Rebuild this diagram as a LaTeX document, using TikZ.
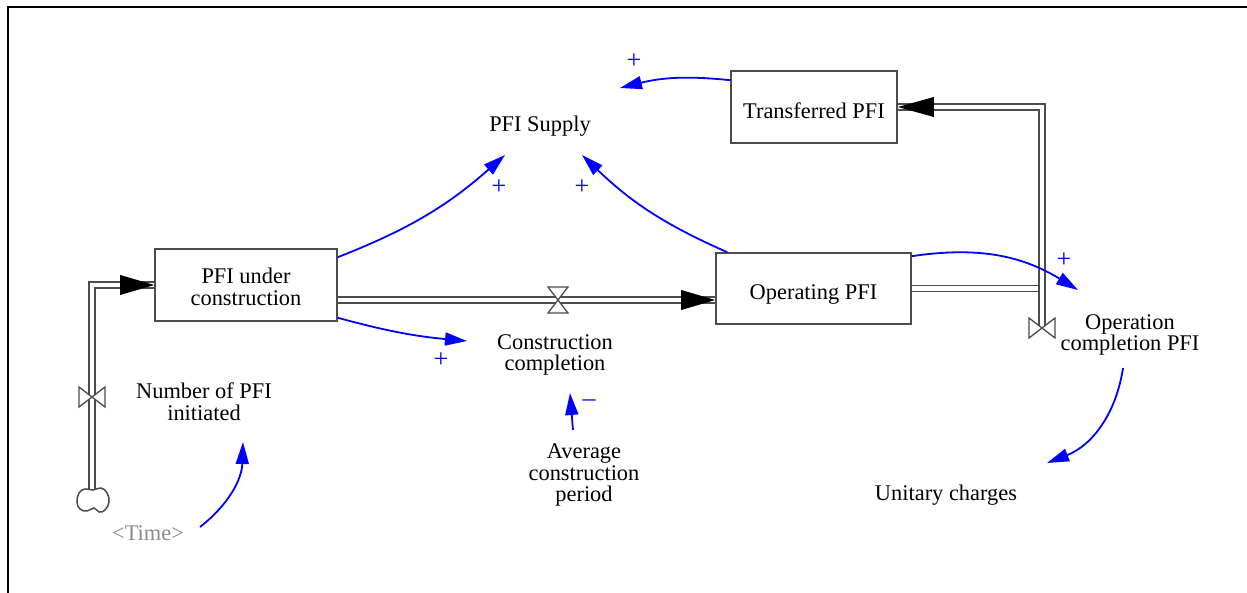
\documentclass[tikz,border=0pt]{standalone}
\usepackage{fontspec}
\setmainfont{Liberation Serif}
\usetikzlibrary{arrows.meta,calc}
\begin{document}
\begin{tikzpicture}[x=0.5pt,y=-0.5pt,
  every node/.style={font=\fontsize{11.2}{10.8}\selectfont, align=center, inner sep=0pt},
  stockbox/.style={draw=black!70, line width=0.8pt, fill=white, minimum height=36pt},
  pipe/.style={draw=black!70, line width=0.75pt, double=white, double distance=2.4pt, line join=miter},
  link/.style={draw=blue, line width=0.9pt, -{Triangle[length=11pt,width=6.5pt]}},
  valvestyle/.style={draw=black!70, line width=0.65pt, fill=white},
  sign/.style={text=blue, font=\fontsize{13}{13}\selectfont}]
\useasboundingbox (0,0) rectangle (1247,593);
\fill[white] (0,0) rectangle (1247,593);
\draw[line width=1.2pt] (8,593) -- (8,7) -- (1247,7);

% stocks
\node[stockbox, minimum width=91pt] (puc) at (246,285) {};
\node[stockbox, minimum width=97.5pt, minimum height=35.5pt] (op) at (813.5,288.5) {};
\node[stockbox, minimum width=83pt] (tr) at (814,107) {};
\node (puct) at (246,287) {PFI under\\construction};
\node (opt) at (813.5,295) {Operating PFI};
\node (trt) at (814,111) {Transferred PFI};

% variables
\node (supply) at (540,126) {PFI Supply};
\node (cc) at (555,355) {Construction\\completion};
\node (npi) at (204,402) {Number of PFI\\initiated};
\node[text=black!45] (time) at (148,533) {<Time>};
\node (acp) at (584,475) {Average\\construction\\period};
\node (uc) at (946,495) {Unitary charges};
\node (ocp) at (1130,335) {Operation\\completion PFI};

% valves positions and source
\coordinate (v0) at (92,397);
\coordinate (v1) at (558,300);
\coordinate (v2) at (1042,328);
\coordinate (src) at (92,490);

% pipes
\draw[pipe] (src) -- (v0 |- puc.west) -- (puc.west);
\draw[pipe] (puc.east |- v1) -- (op.west |- v1);
\draw[pipe] (op.east) -- (v2 |- op.east);
\draw[pipe] (v2) -- (v2 |- tr.east) -- (tr.east);

% source cloud
\draw[valvestyle, line width=0.75pt, shift={(93,500)}] plot[smooth cycle, tension=0.75] coordinates
  {(-14,-7) (-8,-11) (0,-10) (8,-12) (14,-7) (16,2) (12,10) (6,12) (1,8) (-6,11) (-13,9) (-16,2)};

% pipe arrowheads
\fill[black] (puc.west) -- ++(-34,-10) -- ++(0,20) -- cycle;
\fill[black] (op.west |- v1) -- ++(-34,-10) -- ++(0,20) -- cycle;
\fill[black] (tr.east) -- ++(36,-10) -- ++(0,20) -- cycle;

% valves
\filldraw[valvestyle] (v0) -- ++(-13,-10) -- ++(0,20) -- cycle;
\filldraw[valvestyle] (v0) -- ++(13,-10) -- ++(0,20) -- cycle;
\filldraw[valvestyle] (v1) -- ++(-10,-13) -- ++(20,0) -- cycle;
\filldraw[valvestyle] (v1) -- ++(-10,13) -- ++(20,0) -- cycle;
\filldraw[valvestyle] (v2) -- ++(-13,-10) -- ++(0,20) -- cycle;
\filldraw[valvestyle] (v2) -- ++(13,-10) -- ++(0,20) -- cycle;

% causal links
\draw[link] ($(puc.north east)+(0,9)$) to[bend right=10] ($(supply)+(-35,29)$);
\draw[link] ($(op.north west)+(12,0)$) to[bend left=10] ($(supply)+(42,29)$);
\draw[link] ($(tr.north west)+(0,10)$) to[bend right=10] ($(supply)+(80,-38)$);
\draw[link] ($(puc.south east)+(0,-4)$) to[bend right=5] ($(cc)+(-88,-14)$);
\draw[link] ($(op.north east)+(0,4)$) to[bend left=20] ($(ocp)+(-52,-45)$);
\draw[link] ($(ocp)+(-7,33)$) to[bend left=30] ($(uc)+(101,-32)$);
\draw[link] ($(acp)+(-11,-45)$) -- ($(cc)+(15,38)$);
\draw[link] ($(time)+(52,-6)$) to[bend right=25] ($(npi)+(39,40)$);

% polarity signs
\node[sign] (s1) at (499,187) {+};
\node[sign] (s2) at (582,187) {+};
\node[sign] (s3) at (634,61) {+};
\node[sign] (s4) at (441,360) {+};
\node[sign] (s5) at (1064,260) {+};
\node[sign] (s6) at (589,403) {–};
\end{tikzpicture}
\end{document}
